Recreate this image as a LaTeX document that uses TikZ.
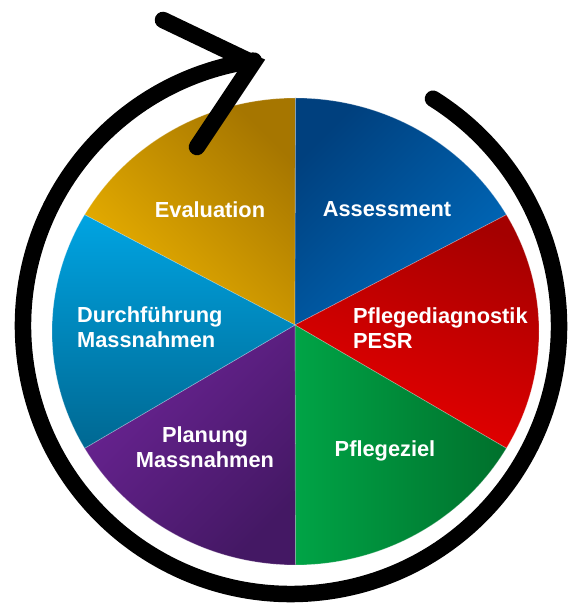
\documentclass[tikz,border=0pt]{standalone}
\usepackage{xcolor}
\definecolor{evallight}{RGB}{236,178,0}
\definecolor{evaldark}{RGB}{166,118,0}
\definecolor{assessdark}{RGB}{0,64,126}
\definecolor{assesslight}{RGB}{0,106,188}
\definecolor{diagdark}{RGB}{164,0,0}
\definecolor{diaglight}{RGB}{234,0,0}
\definecolor{ziellight}{RGB}{0,164,70}
\definecolor{zieldark}{RGB}{0,112,44}
\definecolor{planlight}{RGB}{108,36,150}
\definecolor{plandark}{RGB}{68,24,100}
\definecolor{durchlight}{RGB}{0,164,226}
\definecolor{durchdark}{RGB}{0,104,146}
\usepackage{fontspec}
\setsansfont{Liberation Sans}
\usepackage{tikz}

\begin{document}
\begin{tikzpicture}[
    % GLOBAL CFG
    x=1pt, y=1pt,
    % Styles
    sector/.style={% For the pie pieces
        draw=white,
        draw opacity=0.3,
        line width=0.7pt,
        },
    pie/.style={% radii of the pie
        x radius=243.5,
        y radius=233.5,
        },
    steplabel/.style={% For the white texts
        text=white,
        inner sep=0pt,
        font=\sffamily\bfseries\fontsize{21.8}{25}\selectfont,
        },
    ring/.style={% For the black circle arrow
        draw=black,
        line width=16.5pt,
        line cap=round,
        },
    ]

    \useasboundingbox (0,0) rectangle (571,605);

    % Centres of pie and ring
    \coordinate (O) at (295,280);
    \coordinate (C) at (295.5,273.5);
    \coordinate (R) at (291,279);

    % Draw the pie
    \shade [sector, top color=evaldark, bottom color=evallight, shading angle=-45]
        (O) -- ([shift={(C)}]150:243.5 and 233.5) arc[pie, start angle=150, end angle=90] -- cycle;
    \shade [sector, top color=assessdark, bottom color=assesslight, shading angle=45]
        (O) -- ([shift={(C)}]90:243.5 and 233.5) arc[pie, start angle=90, end angle=30] -- cycle;
    \shade [sector, top color=diagdark, bottom color=diaglight, shading angle=-20]
        (O) -- ([shift={(C)}]30:243.5 and 233.5) arc[pie, start angle=30, end angle=-30] -- cycle;
    \shade [sector, top color=zieldark, bottom color=ziellight, shading angle=-90]
        (O) -- ([shift={(C)}]-30:243.5 and 233.5) arc[pie, start angle=-30, end angle=-90] -- cycle;
    \shade [sector, top color=planlight, bottom color=plandark, shading angle=45]
        (O) -- ([shift={(C)}]270:243.5 and 233.5) arc[pie, start angle=270, end angle=210] -- cycle;
    \shade [sector, top color=durchlight, bottom color=durchdark, shading angle=0]
        (O) -- ([shift={(C)}]210:243.5 and 233.5) arc[pie, start angle=210, end angle=150] -- cycle;

    % Draw the labels (base = last line)
    \node [steplabel, anchor=base] (evaluation) at (210,387) {Evaluation};
    \node [steplabel, anchor=base] (assessment) at (387,388) {Assessment};
    \node [steplabel, anchor=base west, align=left] (diagnostik) at (353,256) {Pflegediagnostik\\PESR};
    \node [steplabel, anchor=base] (pflegeziel) at (385,148) {Pflegeziel};
    \node [steplabel, anchor=base, align=center] (planung) at (205,137) {Planung\\Massnahmen};
    \node [steplabel, anchor=base west, align=left] (durchfuehrung) at (77,257) {Durchführung\\Massnahmen};

    % Draw the ring and its arrow head
    \coordinate (tip) at (253,542);
    \coordinate (arm1) at (163,585);
    \coordinate (arm2) at (197,458);
    \draw [ring] ([shift={(R)}]98:268) arc[start angle=98, end angle=418, radius=268];
    \draw [ring, line join=miter] (arm1) -- (tip) -- (arm2);

\end{tikzpicture}
\end{document}
